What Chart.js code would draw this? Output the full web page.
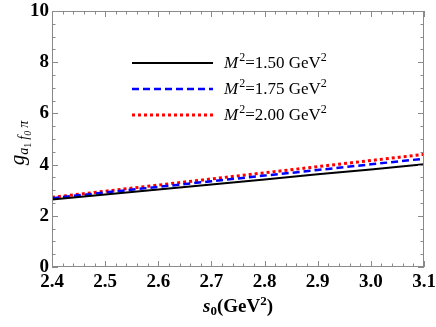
<!DOCTYPE html>
<html>
<head>
<meta charset="utf-8">
<script src="https://cdn.jsdelivr.net/npm/chart.js@4"></script>
<style>
  body { margin: 0; background: #fff; }
  #wrap { width: 436px; height: 327px; }
</style>
</head>
<body>
<div id="wrap"><canvas id="myChart" width="436" height="327"></canvas></div>
<script>
// data
const s0Values = [2.4, 2.5, 2.6, 2.7, 2.8, 2.9, 3.0, 3.1];
const gM150 = [2.64, 2.83, 3.03, 3.22, 3.42, 3.62, 3.81, 4.01];
const gM175 = [2.69, 2.91, 3.13, 3.35, 3.57, 3.79, 4.01, 4.23];
const gM200 = [2.72, 2.96, 3.20, 3.44, 3.68, 3.92, 4.16, 4.40];
const seriesLabels = ['1.50', '1.75', '2.00'];
const xTickLabels = ['2.4', '2.5', '2.6', '2.7', '2.8', '2.9', '3.0', '3.1'];
const yTickLabels = ['0', '2', '4', '6', '8', '10'];

const SERIF = '"Liberation Serif", "Times New Roman", serif';
const frameColor = '#8a8a8a';

function toPoints(ys) {
    return s0Values.map((x, i) => ({ x: x, y: ys[i] }));
}

// draw a run of text pieces, each with its own font and baseline shift
function richText(ctx, parts, x, y) {
    let cx = x;
    parts.forEach(p => {
        ctx.font = p.font;
        ctx.fillText(p.t, cx, y + (p.dy || 0));
        cx += ctx.measureText(p.t).width + (p.gap || 0);
    });
    return cx - x;
}
function richWidth(ctx, parts) {
    let w = 0;
    parts.forEach(p => { ctx.font = p.font; w += ctx.measureText(p.t).width + (p.gap || 0); });
    return w;
}

// Mathematica-like frame ticks, inward, on all four sides
const frameTicks = {
    id: 'frameTicks',
    afterDraw(chart) {
        const ctx = chart.ctx;
        const xs = chart.scales.x, ys = chart.scales.y;
        const a = chart.chartArea;
        ctx.save();
        ctx.strokeStyle = frameColor;
        ctx.lineWidth = 1;
        ctx.strokeRect(a.left + 0.5, a.top + 0.5, a.right - a.left - 1, a.bottom - a.top - 1);
        ctx.beginPath();
        for (let i = 0; i <= 35; i++) {
            const v = 2.4 + i * 0.02;
            const px = Math.round(xs.getPixelForValue(v)) + 0.5;
            const len = (i % 5 === 0) ? 6 : 3.5;
            ctx.moveTo(px, a.bottom); ctx.lineTo(px, a.bottom - len);
            ctx.moveTo(px, a.top); ctx.lineTo(px, a.top + len);
        }
        for (let i = 0; i <= 20; i++) {
            const v = i * 0.5;
            const py = Math.round(ys.getPixelForValue(v)) + 0.5;
            const len = (i % 4 === 0) ? 6 : 3.5;
            ctx.moveTo(a.left, py); ctx.lineTo(a.left + len, py);
            ctx.moveTo(a.right, py); ctx.lineTo(a.right - len, py);
        }
        ctx.stroke();
        ctx.restore();
    }
};

// legend with superscripts, inside the plot
const texLegend = {
    id: 'texLegend',
    afterDraw(chart) {
        const ctx = chart.ctx;
        const a = chart.chartArea;
        ctx.save();
        chart.data.datasets.forEach((ds, i) => {
            const y = 63 + i * 26;
            ctx.strokeStyle = ds.borderColor;
            ctx.lineWidth = ds.borderWidth;
            ctx.setLineDash(ds.borderDash || []);
            ctx.beginPath();
            ctx.moveTo(a.left + 80, y);
            ctx.lineTo(a.left + 161, y);
            ctx.stroke();
            ctx.setLineDash([]);
            ctx.fillStyle = '#000';
            ctx.textBaseline = 'middle';
            richText(ctx, [
                { t: 'M', font: 'italic 17px ' + SERIF, gap: 1 },
                { t: '2', font: '12px ' + SERIF, dy: -6 },
                { t: '=' + seriesLabels[i] + ' GeV', font: '17px ' + SERIF },
                { t: '2', font: '12px ' + SERIF, dy: -6 }
            ], a.left + 172, y + 1);
        });
        ctx.restore();
    }
};

// axis titles with sub/superscripts
const texTitles = {
    id: 'texTitles',
    afterDraw(chart) {
        const ctx = chart.ctx;
        const a = chart.chartArea;
        ctx.save();
        ctx.fillStyle = '#000';
        ctx.textBaseline = 'alphabetic';
        const xParts = [
            { t: 's', font: 'italic bold 19px ' + SERIF },
            { t: '0', font: 'bold 13px ' + SERIF, dy: 3 },
            { t: '(GeV', font: 'bold 19px ' + SERIF },
            { t: '2', font: 'bold 13px ' + SERIF, dy: -7 },
            { t: ')', font: 'bold 19px ' + SERIF }
        ];
        const xw = richWidth(ctx, xParts);
        richText(ctx, xParts, (a.left + a.right) / 2 - xw / 2, 312);

        const yParts = [
            { t: 'g', font: 'italic 21px ' + SERIF },
            { t: 'a', font: 'italic 14px ' + SERIF, dy: 4 },
            { t: '1', font: '10px ' + SERIF, dy: 7, gap: 3 },
            { t: 'f', font: 'italic 14px ' + SERIF, dy: 4 },
            { t: '0', font: 'italic 10px ' + SERIF, dy: 7, gap: 3 },
            { t: 'π', font: 'italic 14px ' + SERIF, dy: 4 }
        ];
        const yw = richWidth(ctx, yParts);
        ctx.translate(24, 143);
        ctx.rotate(-Math.PI / 2);
        richText(ctx, yParts, -yw / 2, 0);
        ctx.restore();
    }
};

const ctx = document.getElementById('myChart').getContext('2d');
new Chart(ctx, {
    type: 'line',
    data: {
        datasets: [{
            label: 'M2=1.50',
            data: toPoints(gM150),
            borderColor: '#000000',
            borderWidth: 2,
            pointRadius: 0
        }, {
            label: 'M2=1.75',
            data: toPoints(gM175),
            borderColor: '#0000ff',
            borderWidth: 2.5,
            borderDash: [7, 4],
            pointRadius: 0
        }, {
            label: 'M2=2.00',
            data: toPoints(gM200),
            borderColor: '#ff0000',
            borderWidth: 3,
            borderDash: [3, 3],
            pointRadius: 0
        }]
    },
    options: {
        responsive: false,
        animation: false,
        layout: { padding: { top: 11, right: 12, left: 0, bottom: 0 } },
        plugins: { legend: { display: false }, tooltip: { enabled: false } },
        scales: {
            x: {
                type: 'linear',
                min: 2.4,
                max: 3.1,
                afterFit: s => { s.height = 60; s.paddingLeft = 0; s.paddingRight = 0; },
                afterBuildTicks: s => { s.ticks = xTickLabels.map(t => ({ value: parseFloat(t) })); },
                grid: { display: false, drawTicks: false },
                border: { display: false },
                ticks: {
                    padding: 4,
                    maxRotation: 0,
                    autoSkip: false,
                    color: '#000',
                    font: { family: SERIF, size: 19, weight: 'bold' },
                    callback: (v, i) => xTickLabels[i]
                }
            },
            y: {
                min: 0,
                max: 10,
                afterFit: s => { s.width = 52; s.paddingTop = 0; s.paddingBottom = 0; },
                afterBuildTicks: s => { s.ticks = yTickLabels.map(t => ({ value: parseFloat(t) })); },
                grid: { display: false, drawTicks: false },
                border: { display: false },
                ticks: {
                    padding: 3,
                    autoSkip: false,
                    color: '#000',
                    font: { family: SERIF, size: 19, weight: 'bold' },
                    callback: (v, i) => yTickLabels[i]
                }
            }
        }
    },
    plugins: [frameTicks, texLegend, texTitles]
});
</script>
</body>
</html>
